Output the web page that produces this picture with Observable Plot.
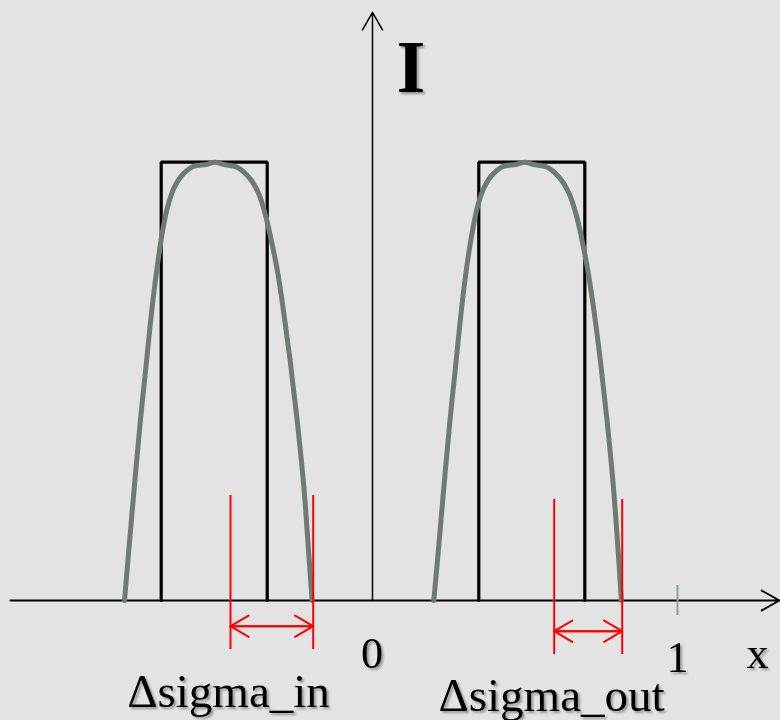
<!DOCTYPE html>
<html><head><meta charset="utf-8">
<script src="https://cdn.jsdelivr.net/npm/d3@7"></script>
<script src="https://cdn.jsdelivr.net/npm/@observablehq/plot@0.6"></script>
<style>
html,body{margin:0;padding:0;background:#e3e3e3;}
#chart svg text{filter:drop-shadow(2px 2px 1.2px rgba(0,0,0,0.35));}
</style></head><body><div id="chart"></div>
<script>
// inner (left) intensity profile
const innerX = [-0.813,-0.800,-0.781,-0.761,-0.744,-0.720,-0.703,-0.688,-0.672,-0.652,-0.625,-0.588,-0.545,-0.517,-0.488,-0.444,-0.401,-0.373,-0.352,-0.334,-0.312,-0.292,-0.270,-0.247,-0.225,-0.209,-0.198];
const innerY = [0,0.1065,0.2585,0.4107,0.5248,0.6845,0.7757,0.8442,0.8973,0.9393,0.9697,0.9902,0.9947,1.0,0.9947,0.9886,0.9621,0.9279,0.8823,0.8289,0.7529,0.6616,0.5476,0.4107,0.2585,0.1065,0];
// outer (right) intensity profile
const outerX = [0.201,0.215,0.234,0.254,0.271,0.295,0.312,0.328,0.344,0.364,0.391,0.428,0.470,0.499,0.528,0.573,0.616,0.645,0.667,0.685,0.706,0.726,0.747,0.769,0.790,0.806,0.816];
const outerY = [0,0.1065,0.2585,0.4107,0.5248,0.6845,0.7757,0.8442,0.8973,0.9393,0.9697,0.9902,0.9947,1.0,0.9947,0.9886,0.9621,0.9279,0.8823,0.8289,0.7529,0.6616,0.5476,0.4107,0.2585,0.1065,0];
// ideal top-hat pupil edges
const rectStart = [-0.6928, 0.3485];
const rectEnd = [-0.3452, 0.6961];
const rectLevel = 1;
// delta sigma markers
const deltaFrom = [-0.4656, 0.5957];
const deltaTo = [-0.1944, 0.8187];
const deltaArrowY = [-0.0586, -0.0700];
const deltaTop = [0.2396, 0.2304];
const deltaBottom = [-0.1118, -0.1232];
// axes
const xAxisFrom = -1.187, xAxisTo = 1.334;
const yAxisTo = 1.342;
const tickValues = [1];
// labels
const labelText = ["I", "0", "1", "x", "Δsigma_in", "Δsigma_out"];
const labelX = [0.126, -0.002, 1.0, 1.262, -0.804, 0.2164];
const labelY = [1.1597, -0.1529, -0.1620, -0.1551, -0.2434, -0.2510];

const innerCurve = innerX.map((x, i) => ({x, y: innerY[i]}));
const outerCurve = outerX.map((x, i) => ({x, y: outerY[i]}));
const rects = rectStart.flatMap((a, i) => [
  {x: a, y: 0, k: i}, {x: a, y: rectLevel, k: i},
  {x: rectEnd[i], y: rectLevel, k: i}, {x: rectEnd[i], y: 0, k: i}
]);
const deltas = deltaFrom.map((a, i) => ({a, b: deltaTo[i], y: deltaArrowY[i], t: deltaTop[i], bt: deltaBottom[i]}));
const labels = labelText.map((t, i) => ({t, x: labelX[i], y: labelY[i]}));
const serif = "'Liberation Serif', 'Times New Roman', serif";

const chart = Plot.plot({
  width: 780, height: 720, margin: 0,
  style: {background: "#e3e3e3", overflow: "visible"},
  x: {domain: [-372/305, 408/305], axis: null},
  y: {domain: [-120/438.3, 600/438.3], axis: null},
  marks: [
    Plot.arrow([{}], {x1: xAxisFrom, x2: xAxisTo, y1: 0, y2: 0, stroke: "black", strokeWidth: 2, headAngle: 59, headLength: 15.2}),
    Plot.arrow([{}], {x1: 0, x2: 0, y1: 0, y2: yAxisTo, stroke: "black", strokeWidth: 1.5, headAngle: 59, headLength: 20.3}),
    Plot.ruleX(tickValues, {x: d => d, y1: 0.0342, y2: -0.0342, stroke: "#8fa096", strokeWidth: 2}),
    Plot.line(rects, {x: "x", y: "y", z: "k", stroke: "black", strokeWidth: 3.2, strokeLinejoin: "miter"}),
    Plot.line(innerCurve, {x: "x", y: "y", stroke: "#6d7b72", strokeWidth: 5, curve: "catmull-rom"}),
    Plot.line(outerCurve, {x: "x", y: "y", stroke: "#6d7b72", strokeWidth: 5, curve: "catmull-rom"}),
    Plot.ruleX(deltas, {x: "a", y1: "t", y2: "bt", stroke: "red", strokeWidth: 2}),
    Plot.ruleX(deltas, {x: "b", y1: "t", y2: "bt", stroke: "red", strokeWidth: 2}),
    Plot.arrow(deltas, {x1: "a", x2: "b", y1: "y", y2: "y", stroke: "red", strokeWidth: 2, headAngle: 61, headLength: 15.75}),
    Plot.arrow(deltas, {x1: "b", x2: "a", y1: "y", y2: "y", stroke: "red", strokeWidth: 2, headAngle: 61, headLength: 15.75}),
    Plot.text(labels.slice(0, 1), {x: "x", y: "y", text: "t", fontSize: 74, fontWeight: "bold", fontFamily: serif, fill: "black", textAnchor: "middle", lineAnchor: "bottom"}),
    Plot.text(labels.slice(1, 4), {x: "x", y: "y", text: "t", fontSize: 44, fontFamily: serif, fill: "black", textAnchor: "middle", lineAnchor: "bottom"}),
    Plot.text(labels.slice(4), {x: "x", y: "y", text: "t", fontSize: 47, fontFamily: serif, fill: "black", textAnchor: "start", lineAnchor: "bottom"})
  ]
});
document.getElementById("chart").appendChild(chart);
</script></body></html>
